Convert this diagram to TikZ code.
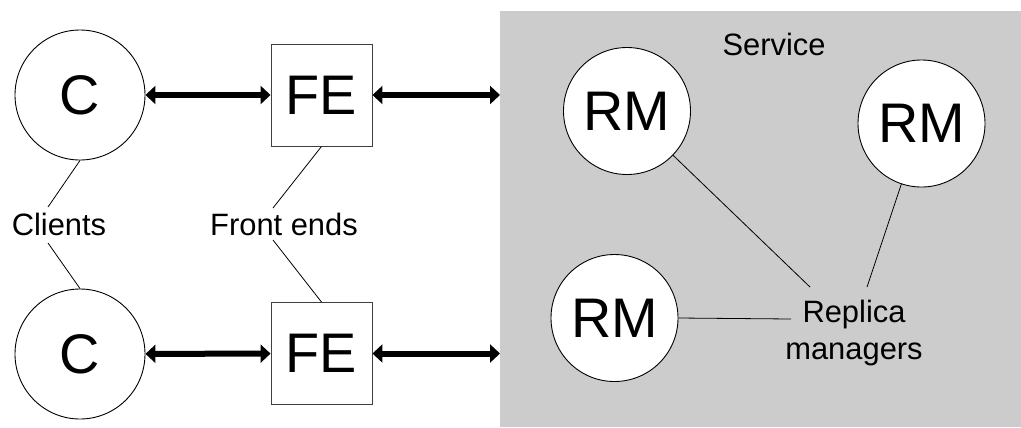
\documentclass[tikz,border=0pt]{standalone}
\usepackage{fontspec}
\setmainfont{Liberation Sans}
\usetikzlibrary{arrows.meta,calc}
\definecolor{servicegray}{RGB}{204,204,204}
\begin{document}
\begin{tikzpicture}[x=1bp,y=-1bp,
  bigtxt/.style={font=\fontsize{56}{60}\selectfont},
  smalltxt/.style={font=\fontsize{31}{37}\selectfont},
  clientnode/.style={circle,draw=black,line width=0.9bp,fill=white,minimum size=130bp,inner sep=0,bigtxt},
  rmnode/.style={circle,draw=black,line width=0.9bp,fill=white,minimum size=127bp,inner sep=0,bigtxt},
  fenode/.style={rectangle,draw=black!75,line width=0.9bp,fill=white,minimum width=101bp,minimum height=102bp,inner sep=0,bigtxt},
  labeltxt/.style={smalltxt,inner sep=0,align=center},
  biarrow/.style={line width=6bp,{Triangle[length=10bp,width=18bp]}-{Triangle[length=10bp,width=18bp]}},
  thinline/.style={line width=0.8bp,draw=black}
]
\useasboundingbox (0,0) rectangle (1021,427);
\node (service) [fill=servicegray,anchor=north west,minimum width=521bp,minimum height=416bp,inner sep=0,outer sep=0] at (500,11) {};
\node (servicelbl) [labeltxt] at (774,44) {Service};

\node (c1) [clientnode] at (80,95) {C};
\node (c2) [clientnode] at (80,354) {C};
\node (fe1) [fenode] at (321.5,95) {FE};
\node (fe2) [fenode] at (321.5,353.5) {FE};

\node (rm1) [rmnode] at (627,111) {RM};
\node (rm2) [rmnode] at (921.5,123.5) {RM};
\node (rm3) [rmnode] at (614.5,318) {RM};

\node (clients) [labeltxt] at (59,224) {Clients};
\node (frontends) [labeltxt] at (284,224) {Front ends};
\node (replica) [labeltxt] at (854,333) {Replica\\managers};

\draw[biarrow] (c1) -- (fe1);
\draw[biarrow] (c2) -- (fe2);
\draw[biarrow] (fe1) -- (service.west |- fe1);
\draw[biarrow] (fe2) -- (service.west |- fe2);

\draw[thinline] (c1.south) -- ($(clients.center)+(-11,-17)$);
\draw[thinline] ($(clients.center)+(-11,19)$) -- (c2.north);
\draw[thinline] (fe1.south) -- ($(frontends.center)+(-11,-16)$);
\draw[thinline] ($(frontends.center)+(-11,16)$) -- (fe2.north);

\draw[thinline] (rm1) -- ($(replica.center)+(-44,-46)$);
\draw[thinline] (rm2) -- ($(replica.center)+(13,-46)$);
\draw[thinline] (rm3.east) -- ($(replica.center)+(-63,-14)$);
\end{tikzpicture}
\end{document}
